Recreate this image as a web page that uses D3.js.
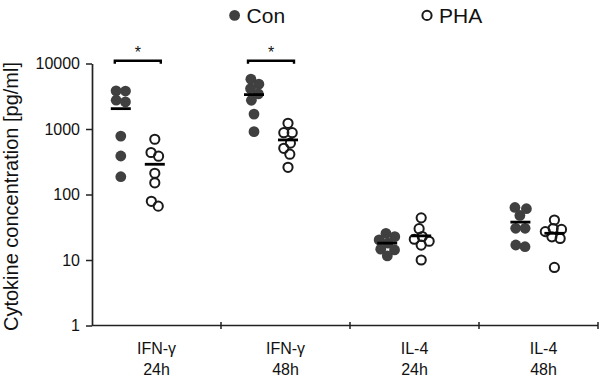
<!DOCTYPE html>
<html>
<head>
<meta charset="utf-8">
<script src="https://cdn.jsdelivr.net/npm/d3@7"></script>
<style>
  body { margin: 0; background: #fff; }
  text { font-family: "Liberation Sans", Arial, sans-serif; fill: #111; }
</style>
</head>
<body>
<div id="chart-area"></div>
<script>
// data
var cytokines = ["IFN-γ", "IFN-γ", "IL-4", "IL-4"];
var times = ["24h", "48h", "24h", "48h"];
var conValues = [
    [3800, 3800, 2760, 2600, 780, 387, 187],
    [5460, 4860, 4330, 3420, 2770, 1690, 910],
    [24.9, 22.7, 20.2, 17.5, 15.1, 14.6, 11.6],
    [61.5, 59.4, 50.4, 30.5, 30.5, 16.9, 16.0]
];
var phaValues = [
    [697, 435, 387, 211, 151, 78, 67],
    [1222, 879, 879, 604, 507, 415, 260],
    [44, 29.4, 22.7, 20.9, 19.7, 16.9, 10],
    [40.8, 29.4, 29.4, 27, 23.2, 21.4, 7.7]
];
var significant = [true, true, false, false];
var yTicks = [1, 10, 100, 1000, 10000];
var legendNames = ["Con", "PHA"];

var width = 600;
var height = 381;

var svg = d3.select("#chart-area").append("svg")
    .attr("width", width)
    .attr("height", height);

var categories = cytokines.map((c, i) => c + " " + times[i]);

var y = d3.scaleLog()
    .domain([1, 10000])
    .range([325.5, 63.5]);

// axis bands (labels and ticks)
var x = d3.scaleBand()
    .domain(categories)
    .range([92, 608]);

// dot columns
var xDots = d3.scalePoint()
    .domain(categories)
    .range([137.8, 537.4]);
var offset = 17;

// Y axis
var leftAxis = d3.axisLeft(y)
    .tickValues(yTicks)
    .tickFormat(d3.format("d"))
    .tickSize(6)
    .tickSizeOuter(0)
    .tickPadding(6);
var yg = svg.append("g")
    .attr("class", "left axis")
    .attr("transform", "translate(92,0)")
    .call(leftAxis);
yg.select(".domain").attr("stroke", "#222").attr("stroke-width", 1.7);
yg.selectAll(".tick line").attr("stroke", "#222").attr("stroke-width", 1.5);
yg.selectAll(".tick text")
    .attr("font-size", "16px")
    .style("fill", "#111");

// Y label
svg.append("text")
    .attr("transform", "translate(18," + ((y(1) + y(10000)) / 2 + 2) + ") rotate(-90)")
    .attr("text-anchor", "middle")
    .attr("font-size", "20px")
    .text("Cytokine concentration [pg/ml]");

// X axis
var xEnd = 598;
var xg = svg.append("g").attr("class", "bottom axis");
xg.append("line")
    .attr("x1", 92).attr("x2", xEnd)
    .attr("y1", y(1)).attr("y2", y(1))
    .attr("stroke", "#222").attr("stroke-width", 1.7);
var tickXs = categories.slice(0, 3).map((c) => x(c) + x.step());
tickXs.push(xEnd);
xg.selectAll(".xtick")
    .data(tickXs)
    .enter().append("line")
    .attr("class", "xtick")
    .attr("x1", (d) => d).attr("x2", (d) => d)
    .attr("y1", y(1) - 3.5).attr("y2", y(1) + 3.5)
    .attr("stroke", "#222").attr("stroke-width", 1.5);

var labels = xg.selectAll(".xlabel")
    .data(categories)
    .enter().append("text")
    .attr("class", "xlabel")
    .attr("text-anchor", "middle")
    .attr("font-size", "16px");
labels.append("tspan")
    .attr("x", (d) => x(d) + x.bandwidth() / 2)
    .attr("y", 354)
    .text((d, i) => cytokines[i]);
labels.append("tspan")
    .attr("x", (d) => x(d) + x.bandwidth() / 2)
    .attr("y", 375)
    .text((d, i) => times[i]);

// spread overlapping points sideways
function swarm(values, cx, r) {
    var nodes = values.map((v) => ({ v: v, x: cx, y: y(v), ty: y(v) }));
    var sim = d3.forceSimulation(nodes)
        .force("x", d3.forceX(cx).strength(0.1))
        .force("y", d3.forceY((d) => d.ty).strength(1))
        .force("collide", d3.forceCollide(r))
        .stop();
    for (var i = 0; i < 250; i++) sim.tick();
    return nodes;
}

var groups = [];
categories.forEach((c, i) => {
    groups.push({ cat: c, kind: "con", cx: xDots(c) - offset, values: conValues[i] });
    groups.push({ cat: c, kind: "pha", cx: xDots(c) + offset, values: phaValues[i] });
});

var dots = svg.append("g").attr("class", "dots");
groups.forEach((gr) => {
    var nodes = swarm(gr.values, gr.cx, gr.kind === "con" ? 4.7 : 4.2);
    dots.selectAll(null)
        .data(nodes)
        .enter().append("circle")
        .attr("cx", (d) => d.x)
        .attr("cy", (d) => d.y)
        .attr("r", gr.kind === "con" ? 5.4 : 4.6)
        .attr("fill", gr.kind === "con" ? "#404040" : "none")
        .attr("stroke", gr.kind === "con" ? "none" : "#1a1a1a")
        .attr("stroke-width", 2);
    // mean line
    var m = d3.mean(gr.values);
    dots.append("line")
        .attr("x1", gr.cx - 10).attr("x2", gr.cx + 10)
        .attr("y1", y(m)).attr("y2", y(m))
        .attr("stroke", "#000").attr("stroke-width", 2.8);
});

// significance brackets
var sig = svg.append("g").attr("class", "sig");
categories.forEach((c, i) => {
    if (!significant[i]) return;
    var x1 = xDots(c) - offset - 6;
    var x2 = xDots(c) + offset + 6;
    var by = 60.7;
    sig.append("path")
        .attr("d", "M" + x1 + "," + (by + 3) + "V" + by + "H" + x2 + "V" + (by + 3))
        .attr("fill", "none")
        .attr("stroke", "#000")
        .attr("stroke-width", 2.4);
    sig.append("text")
        .attr("x", (x1 + x2) / 2)
        .attr("y", 57.5)
        .attr("text-anchor", "middle")
        .attr("font-size", "16px")
        .text("*");
});

// legend
var legendX = [234.6, 427];
var legend = svg.append("g").attr("class", "legend");
legendNames.forEach((name, i) => {
    legend.append("circle")
        .attr("cx", legendX[i])
        .attr("cy", 15.4)
        .attr("r", i === 0 ? 5.4 : 4.6)
        .attr("fill", i === 0 ? "#404040" : "none")
        .attr("stroke", i === 0 ? "none" : "#1a1a1a")
        .attr("stroke-width", 2);
    legend.append("text")
        .attr("x", legendX[i] + 12)
        .attr("y", 22.5)
        .attr("font-size", "21px")
        .text(name);
});
</script>
</body>
</html>
